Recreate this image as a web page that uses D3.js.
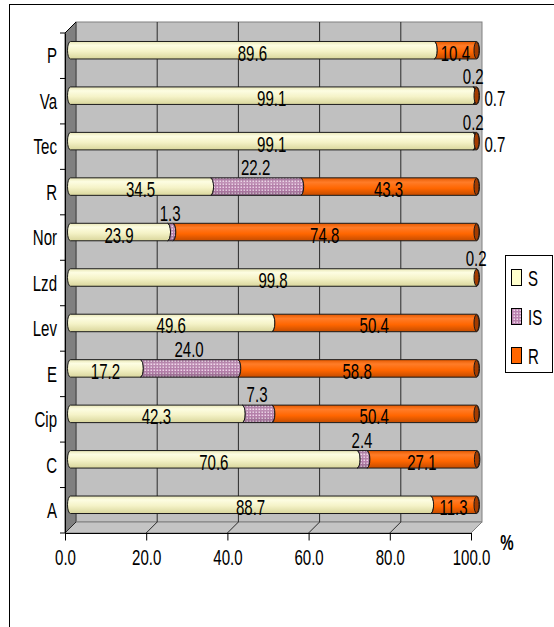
<!DOCTYPE html>
<html>
<head>
<meta charset="utf-8">
<script src="https://cdn.jsdelivr.net/npm/d3@7"></script>
<style>
  body { margin: 0; background: #fff; }
  svg { display: block; }
  text { font-family: "Liberation Sans", Arial, sans-serif; fill: #000; }
</style>
</head>
<body>
<svg id="chart" width="554" height="627"></svg>
<script>
// Susceptibility results per antibiotic (%), top to bottom
const categories = ["P", "Va", "Tec", "R", "Nor", "Lzd", "Lev", "E", "Cip", "C", "A"];
const seriesNames = ["S", "IS", "R"];
const sValues  = [89.6, 99.1, 99.1, 34.5, 23.9, 99.8, 49.6, 17.2, 42.3, 70.6, 88.7];
const isValues = [0, 0.2, 0.2, 22.2, 1.3, 0.2, 0, 24.0, 7.3, 2.4, 0];
const rValues  = [10.4, 0.7, 0.7, 43.3, 74.8, 0, 50.4, 58.8, 50.4, 27.1, 11.3];
const xTicks = [0, 20, 40, 60, 80, 100];
const axisUnit = "%";

const SQ = 0.7;           // horizontal squeeze of the narrow lettering
const FS = 21.5;          // font size
const depth = 11;         // 3-D depth offset of the plot box

const svg = d3.select("#chart");

// outer frame
svg.append("rect").attr("x", 9.5).attr("y", 4.5).attr("width", 560).attr("height", 640)
  .attr("fill", "#fff").attr("stroke", "#000");

// scales: front plane, back wall, and the mid-depth plane where the cylinders sit
const xFront = d3.scaleLinear().domain([0, 100]).range([65, 471]);
const xBack = v => xFront(v) + depth;
const xBar = v => xFront(v) + depth / 2;
const yFront = d3.scaleBand().domain(categories).range([33, 533]);
const yTop = yFront.range()[0], yBot = yFront.range()[1];
const barH = 17.5;
const barCY = c => yFront(c) + yFront.bandwidth() / 2 - depth / 2;

// ---- defs: cylinder shading and the dotted IS fill
const defs = svg.append("defs");
function vGrad(id, stops) {
  const g = defs.append("linearGradient").attr("id", id)
    .attr("x1", 0).attr("y1", 0).attr("x2", 0).attr("y2", 1);
  stops.forEach(([o, c]) => g.append("stop").attr("offset", o).attr("stop-color", c));
}
vGrad("gS", [[0, "#e9e7b6"], [0.22, "#fdfde2"], [0.55, "#f5f3c8"], [1, "#d9d69c"]]);
vGrad("gR", [[0, "#e65a00"], [0.25, "#ff7c28"], [0.6, "#ff6600"], [1, "#c44c00"]]);
vGrad("gShade", [[0, "rgba(0,0,0,0.12)"], [0.25, "rgba(255,255,255,0.15)"], [0.6, "rgba(0,0,0,0)"], [1, "rgba(0,0,0,0.22)"]]);
const pat = defs.append("pattern").attr("id", "pIS").attr("patternUnits", "userSpaceOnUse")
  .attr("width", 3).attr("height", 3);
pat.append("rect").attr("width", 3).attr("height", 3).attr("fill", "#b982ae");
pat.append("rect").attr("x", 0.5).attr("y", 0.5).attr("width", 1.5).attr("height", 1.5).attr("fill", "#f0d6ea");

const fills = { S: "url(#gS)", IS: "url(#pIS)", R: "url(#gR)" };
const legendFills = { S: "#ffffcc", IS: "url(#pIS)", R: "#ff6600" };

// ---- plot box: back wall, side wall, floor
const box = svg.append("g");
box.append("rect")
  .attr("x", xBack(0)).attr("y", yTop - depth)
  .attr("width", xBack(100) - xBack(0)).attr("height", yBot - yTop)
  .attr("fill", "#c0c0c0").attr("stroke", "#808080");
box.append("polygon")
  .attr("points", [[xFront(0), yTop], [xBack(0), yTop - depth], [xBack(0), yBot - depth], [xFront(0), yBot]].join(" "))
  .attr("fill", "#808080").attr("stroke", "#404040");
box.append("polygon")
  .attr("points", [[xFront(0), yBot], [xBack(0), yBot - depth], [xBack(100), yBot - depth], [xFront(100), yBot]].join(" "))
  .attr("fill", "#c4c4c4").attr("stroke", "#808080");

// gridlines on back wall and floor
xTicks.filter(v => v > 0 && v < 100).forEach(v => {
  box.append("line").attr("x1", xBack(v)).attr("x2", xBack(v))
    .attr("y1", yTop - depth).attr("y2", yBot - depth).attr("stroke", "#2a2a2a");
});
xTicks.forEach(v => {
  box.append("line").attr("x1", xFront(v)).attr("y1", yBot)
    .attr("x2", xBack(v)).attr("y2", yBot - depth)
    .attr("stroke", v === 100 ? "#808080" : "#2a2a2a");
});
box.append("line").attr("x1", xFront(0)).attr("y1", yTop).attr("x2", xBack(0)).attr("y2", yTop - depth)
  .attr("stroke", "#000");

// ---- axes
const xAxis = d3.axisBottom(xFront).tickValues(xTicks).tickFormat(d3.format(".1f"))
  .tickSize(7.5).tickSizeOuter(0);
const gx = svg.append("g").attr("transform", `translate(0,${yBot})`).call(xAxis);
gx.select(".domain").attr("stroke", "#000");
gx.selectAll(".tick line").attr("stroke", "#000");
gx.selectAll(".tick text")
  .attr("y", 16.5).attr("transform", `scale(${SQ},1)`)
  .style("font-size", FS + "px").style("font-family", null);

const yAxis = d3.axisLeft(yFront).tickSize(0).tickSizeOuter(0);
const gy = svg.append("g").attr("transform", `translate(${xFront(0)},0)`).call(yAxis);
gy.select(".domain").attr("stroke", "#000");
gy.selectAll(".tick text")
  .attr("x", -8 / SQ).attr("dy", "0.36em").attr("transform", `scale(${SQ},1)`)
  .style("font-size", FS + "px").style("font-family", null);
// category boundary ticks
categories.concat([null]).forEach(c => {
  const y = c === null ? yBot : yFront(c);
  svg.append("line").attr("x1", xFront(0) - 5).attr("x2", xFront(0))
    .attr("y1", y).attr("y2", y).attr("stroke", "#000");
});

function label(x, y, s, anchor, opts = {}) {
  svg.append("text")
    .attr("transform", `translate(${x},${y}) scale(${SQ},1)`)
    .attr("text-anchor", anchor)
    .style("font-size", (opts.size || FS) + "px")
    .style("font-weight", opts.weight || "normal")
    .text(s);
}

label(507, 550, axisUnit, "middle", { weight: "bold" });

// ---- stacked cylinders
const rx = 3, ry = barH / 2;
const fmt = d3.format(".1f");
const rows = categories.map((c, i) => ({ c, vals: [sValues[i], isValues[i], rValues[i]] }));
const barsG = svg.append("g");

rows.forEach(row => {
  const cy = barCY(row.c), top = cy - ry, bot = cy + ry;
  let acc = 0;
  const segs = [];
  row.vals.forEach((v, k) => {
    if (v > 0) segs.push({ k, v, x0: acc, x1: acc + v });
    acc += v;
  });
  segs.forEach((sg, j) => {
    const a = xBar(sg.x0), b = xBar(sg.x1);
    const d = `M${a},${top} L${b},${top} A${rx},${ry} 0 0 1 ${b},${bot} L${a},${bot} ` +
              `A${rx},${ry} 0 0 ${j === 0 ? 1 : 0} ${a},${top} Z`;
    barsG.append("path").attr("d", d).attr("fill", fills[seriesNames[sg.k]])
      .attr("stroke", "#1a1a1a").attr("stroke-width", 1);
    if (seriesNames[sg.k] === "IS") {
      barsG.append("path").attr("d", d).attr("fill", "url(#gShade)").attr("stroke", "none");
    }
  });
  // end face of the stack
  barsG.append("ellipse").attr("cx", xBar(acc)).attr("cy", cy).attr("rx", rx - 0.5).attr("ry", ry - 0.5)
    .attr("fill", "#a33c00").attr("stroke", "#1a1a1a");

  // value labels
  segs.forEach(sg => {
    const name = seriesNames[sg.k];
    const mid = xBar((sg.x0 + sg.x1) / 2);
    if (name === "IS") {
      label(mid, cy - 19 + 7.5, fmt(sg.v), "middle");
    } else if (name === "R" && sg.v < 2) {
      label(xBar(acc) + 8, cy + 3 + 7.5, fmt(sg.v), "start");
    } else {
      label(mid, cy + 3 + 7.5, fmt(sg.v), "middle");
    }
  });
});

// ---- legend
const lg = svg.append("g");
lg.append("rect").attr("x", 505.5).attr("y", 255.5).attr("width", 47).attr("height", 117)
  .attr("fill", "#fff").attr("stroke", "#000");
seriesNames.forEach((n, i) => {
  const cy = 277.5 + i * 39;
  lg.append("rect").attr("x", 511.5).attr("y", cy - 8).attr("width", 10).attr("height", 16)
    .attr("fill", legendFills[n]).attr("stroke", "#000");
  label(528, cy + 8, n, "start");
});
</script>
</body>
</html>
